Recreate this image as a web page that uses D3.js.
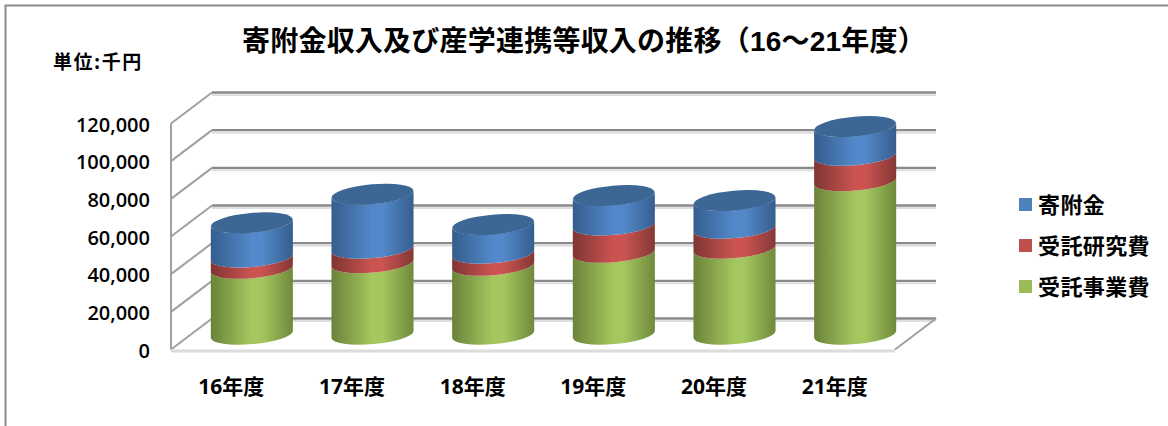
<!DOCTYPE html>
<html><head><meta charset="utf-8">
<script src="https://d3js.org/d3.v7.min.js"></script>
<style>html,body{margin:0;padding:0;background:#fff}svg{display:block}
text{fill:#000;font-family:"Lato","Noto Sans CJK JP",sans-serif}</style></head>
<body><svg id="c" width="1168" height="426"></svg>
<script>
const categories=["16年度","17年度","18年度","19年度","20年度","21年度"];
const jutakuJigyo=[35000,38000,36600,43500,45700,81500];
const jutakuKenkyu=[6000,7700,6400,14500,10600,13500];
const kifukin=[18300,28800,15400,15800,14800,15400];
const seriesNames=["受託事業費","受託研究費","寄附金"];
const legendOrder=["寄附金","受託研究費","受託事業費"];
const yTicks=[0,20000,40000,60000,80000,100000,120000];
const titleText="寄附金収入及び産学連携等収入の推移（16～21年度）";
const unitText="単位:千円";

const svg=d3.select("#c");
const frontL=171,frontR=895,depthX=41,depthY=31;
const y=d3.scaleLinear().domain([0,120000]).range([349.5,123.5]);
const xFront=d3.scaleBand().domain(categories).range([frontL,frontR]);
const xMid=d3.scaleBand().domain(categories).range([frontL+depthX/2,frontR+depthX/2]).paddingInner(.32).paddingOuter(.16);
const color=d3.scaleOrdinal().domain(seriesNames).range(["#9bbb59","#c0504d","#4f81bd"]);
const shades={"受託事業費":["#6a8339","#a5c75f","#6f8a3c"],"受託研究費":["#7f3533","#cb5451","#843836"],"寄附金":["#355d8d","#5389ca","#355e8e"]};
const topColor="#3c6694";

const defs=svg.append("defs");
seriesNames.forEach((s,i)=>{
  const g=defs.append("linearGradient").attr("id","g"+i).attr("x1",0).attr("x2",1).attr("y1",0).attr("y2",0);
  [[0,shades[s][0]],[.5,shades[s][1]],[.62,shades[s][1]],[1,shades[s][2]]].forEach(d=>g.append("stop").attr("offset",d[0]).attr("stop-color",d[1]));
});

// frame
svg.append("path").attr("d","M5.5,426V5.5H1168").attr("fill","none").attr("stroke","#8c8c8c").attr("stroke-width",2);

// walls
const wall=svg.append("g").attr("fill","none");
yTicks.forEach(t=>{
  const yy=y(t);
  wall.append("line").attr("x1",frontL+depthX).attr("x2",frontR+depthX).attr("y1",yy-depthY+2.5).attr("y2",yy-depthY+2.5).attr("stroke","#dedede").attr("stroke-width",2);
  wall.append("line").attr("x1",frontL+depthX).attr("x2",frontR+depthX).attr("y1",yy-depthY).attr("y2",yy-depthY).attr("stroke","#8a8a8a").attr("stroke-width",2.4);
  wall.append("line").attr("x1",frontL).attr("x2",frontL+depthX).attr("y1",yy).attr("y2",yy-depthY).attr("stroke","#a0a0a0").attr("stroke-width",2);
});
wall.append("line").attr("x1",frontL).attr("x2",frontL).attr("y1",y(120000)).attr("y2",y(0)).attr("stroke","#a0a0a0").attr("stroke-width",2);
wall.append("line").attr("x1",frontL).attr("x2",frontR).attr("y1",y(0)+1.5).attr("y2",y(0)+1.5).attr("stroke","#dcdcdc").attr("stroke-width",3);
wall.append("line").attr("x1",frontR).attr("x2",frontR+depthX).attr("y1",y(0)).attr("y2",y(0)-depthY).attr("stroke","#a0a0a0").attr("stroke-width",2);

// cylinders
const rx=xMid.bandwidth()/2, ry=9.6, tilt=3.6;
const rot=-Math.atan2(tilt,rx)*180/Math.PI;
const baseOff=15;
function seg(cx,y0,y1){
  const y0c=y(y0)-baseOff,y1c=y(y1)-baseOff;
  return `M${cx-rx},${y1c+tilt}A${rx},${ry} ${rot} 0 0 ${cx+rx},${y1c-tilt}L${cx+rx},${y0c-tilt}A${rx},${ry} ${rot} 0 1 ${cx-rx},${y0c+tilt}Z`;
}
const stacked=d3.stack().keys(seriesNames).value((d,k)=>d[k])(categories.map((c,i)=>({cat:c,"受託事業費":jutakuJigyo[i],"受託研究費":jutakuKenkyu[i],"寄附金":kifukin[i]})));
const bars=svg.append("g");
categories.forEach((c,i)=>{
  const cx=xMid(c)+rx;
  stacked.forEach((layer,k)=>{
    const d=layer[i];
    bars.append("path").attr("d",seg(cx,d[0],d[1])).attr("fill",`url(#g${k})`);
  });
  const top=stacked[2][i][1];
  bars.append("ellipse").attr("cx",0).attr("cy",0).attr("rx",rx).attr("ry",ry+.3)
    .attr("transform",`translate(${cx},${y(top)-baseOff}) rotate(${rot})`).attr("fill",topColor);
});

// axes
const ax=svg.append("g").attr("transform",`translate(150,0.5)`)
  .call(d3.axisLeft(y).tickValues(yTicks).tickSize(0).tickPadding(0).tickFormat(d3.format(",")));
ax.select(".domain").remove();
ax.selectAll("text").attr("font-size",20).attr("font-weight",600).attr("dy",".36em").style("font-family",'"Open Sans","Noto Sans CJK JP"');
const bx=svg.append("g").attr("transform",`translate(0,378.5)`)
  .call(d3.axisBottom(xFront).tickSize(0).tickPadding(0));
bx.select(".domain").remove();
bx.selectAll("text").attr("font-size",21).attr("font-weight",700).attr("dy",".72em").style("font-family",'"Open Sans","Noto Sans CJK JP"');

// title and unit
svg.append("text").attr("x",584).attr("y",51).attr("text-anchor","middle").attr("font-size",28).attr("font-weight",700).attr("letter-spacing",.22)
  .style("font-family",'"Liberation Sans","Noto Sans CJK JP"').text(titleText);
svg.append("text").attr("x",53).attr("y",69).attr("font-size",19).attr("font-weight",700).attr("letter-spacing",1.5)
  .style("font-family",'"Noto Sans CJK JP"').text(unitText);

// legend
const legendY=d3.scalePoint().domain(legendOrder).range([204.5,286.5]);
legendOrder.forEach(n=>{
  svg.append("rect").attr("x",1019).attr("y",legendY(n)-6.5).attr("width",13).attr("height",13).attr("fill",color(n));
  svg.append("text").attr("x",1038).attr("y",legendY(n)+8).attr("font-size",22).attr("font-weight",700).attr("letter-spacing",.4)
    .style("font-family",'"Noto Sans CJK JP"').text(n);
});
</script></body></html>
